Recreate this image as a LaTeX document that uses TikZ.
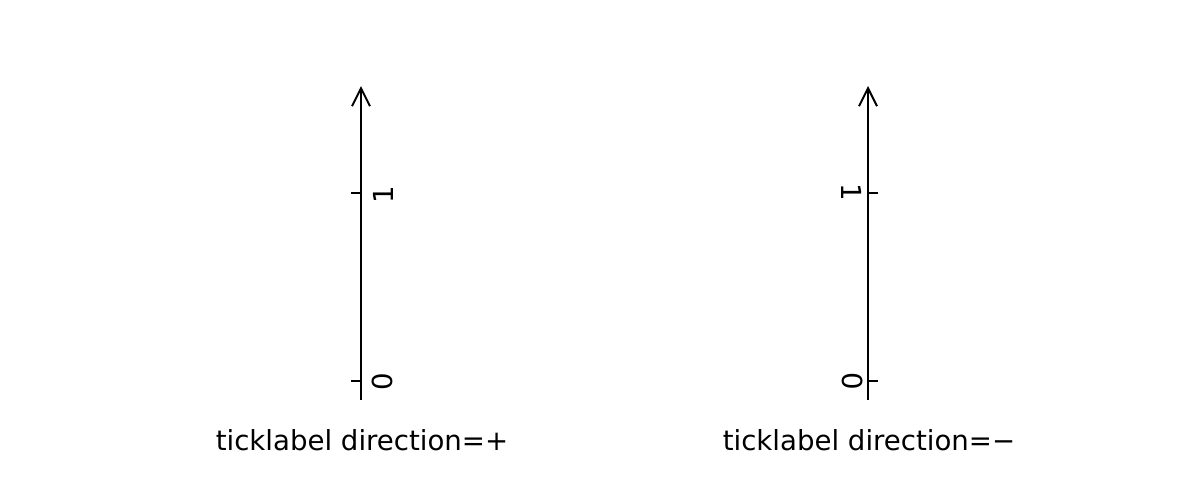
\documentclass[tikz,border=0pt]{standalone}
\usepackage{fontspec}
\setmainfont{DejaVu Sans}
\usetikzlibrary{arrows.meta}
\tikzset{>={Straight Barb[length=9pt,width=9pt]}}
\tikzset{
  axisline/.style={line width=1pt},
  ticklbl/.style={inner sep=0pt,font=\fontsize{13.8}{16}\selectfont},
  caption/.style={anchor=base,inner sep=0pt,font=\fontsize{13.8}{16}\selectfont}
}

\begin{document}
\begin{tikzpicture}[x=0.5pt,y=-0.5pt]
  \useasboundingbox (0,0) rectangle (1200,500);

  \newcommand\Lx{361}
  \newcommand\Rx{868}

  % left axis: ticklabels on the + side
  \coordinate (lbot) at (\Lx,400);
  \coordinate (ltop) at (\Lx,86);
  \draw[axisline,->] (lbot) -- (ltop);
  \coordinate (lone) at (\Lx,193);
  \coordinate (lzero) at (\Lx,381);
  \draw[axisline] (lone) -- +(-10,0);
  \draw[axisline] (lzero) -- +(-10,0);
  \node[ticklbl,rotate=90] (lonelbl) at (383,195) {1};
  \node[ticklbl,rotate=90] (lzerolbl) at (382,382) {0};
  \node[caption] (lcap) at (362,450) {ticklabel direction=+};

  % right axis: ticklabels on the - side
  \coordinate (rbot) at (\Rx,400);
  \coordinate (rtop) at (\Rx,86);
  \draw[axisline,->] (rbot) -- (rtop);
  \coordinate (rone) at (\Rx,193);
  \coordinate (rzero) at (\Rx,381);
  \draw[axisline] (rone) -- +(10,0);
  \draw[axisline] (rzero) -- +(10,0);
  \node[ticklbl,rotate=-90] (ronelbl) at (852,192) {1};
  \node[ticklbl,rotate=-90] (rzerolbl) at (853,381) {0};
  \node[caption] (rcap) at (869,450) {ticklabel direction=−};
\end{tikzpicture}
\end{document}
